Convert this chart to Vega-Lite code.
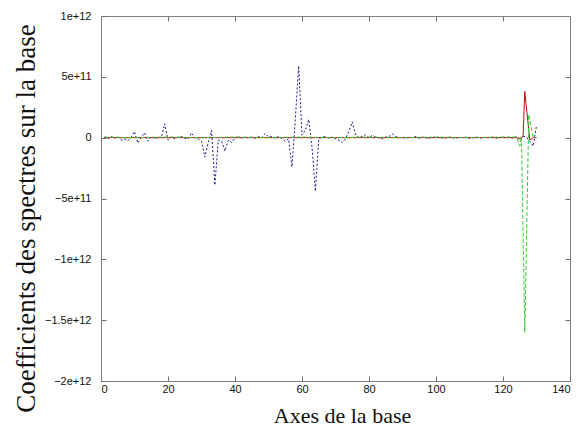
{
  "$schema": "https://vega.github.io/schema/vega-lite/v6.json",
  "autosize": "none",
  "width": 469,
  "height": 365,
  "padding": {"left": 101, "top": 16, "right": 17, "bottom": 53},
  "background": "white",
  "config": {
    "view": {"stroke": "#808080", "strokeWidth": 1},
    "axis": {"domainColor": "#808080", "tickColor": "#707070", "grid": false, "labelFont": "Liberation Sans", "labelFontSize": 11, "labelColor": "#111111", "titleFont": "Liberation Serif", "titleFontWeight": "normal", "titleColor": "#111111"}
  },
  "resolve": {"axis": {"x": "independent", "y": "independent"}},
  "datasets": {
    "blue": [
      {"x":1,"v":0.5e10},{"x":2,"v":-1e10},{"x":3,"v":1e10},{"x":4,"v":-0.5e10},{"x":5,"v":1e10},
      {"x":6,"v":-2e10},{"x":7,"v":-1e10},{"x":8,"v":-2.5e10},{"x":9,"v":0.5e10},{"x":10,"v":5e10},
      {"x":11,"v":-4.5e10},{"x":12,"v":0.5e10},{"x":13,"v":4e10},{"x":14,"v":-3e10},{"x":15,"v":1e10},
      {"x":16,"v":-1e10},{"x":17,"v":0.5e10},{"x":18,"v":0},{"x":19,"v":11.5e10},{"x":20,"v":-2e10},
      {"x":21,"v":0.5e10},{"x":22,"v":-1e10},{"x":23,"v":0.5e10},{"x":24,"v":1e10},{"x":25,"v":-0.5e10},
      {"x":26,"v":-1e10},{"x":27,"v":4e10},{"x":28,"v":0},{"x":29,"v":-1e10},{"x":30,"v":-3e10},
      {"x":31,"v":-16e10},{"x":32,"v":-4e10},{"x":33,"v":6e10},{"x":34,"v":-39e10},{"x":35,"v":-2e10},
      {"x":36,"v":-3e10},{"x":37,"v":-11e10},{"x":38,"v":-2e10},{"x":39,"v":-4e10},{"x":40,"v":0},
      {"x":41,"v":1e10},{"x":42,"v":-0.5e10},{"x":43,"v":0.5e10},{"x":44,"v":0},{"x":45,"v":0.5e10},
      {"x":46,"v":-0.5e10},{"x":47,"v":1e10},{"x":48,"v":0},{"x":49,"v":3.5e10},{"x":50,"v":0.5e10},
      {"x":51,"v":1e10},{"x":52,"v":-0.5e10},{"x":53,"v":1e10},{"x":54,"v":-1e10},{"x":55,"v":-3e10},
      {"x":56,"v":-1e10},{"x":57,"v":-24e10},{"x":58,"v":15e10},{"x":59,"v":59e10},{"x":60,"v":2e10},
      {"x":61,"v":6e10},{"x":62,"v":15e10},{"x":63,"v":-8e10},{"x":64,"v":-44e10},{"x":65,"v":-1e10},
      {"x":66,"v":0.5e10},{"x":67,"v":1e10},{"x":68,"v":-0.5e10},{"x":69,"v":0.5e10},{"x":70,"v":-1e10},
      {"x":71,"v":-2e10},{"x":72,"v":-4e10},{"x":73,"v":-1e10},{"x":74,"v":5e10},{"x":75,"v":13e10},
      {"x":76,"v":2e10},{"x":77,"v":0},{"x":78,"v":1e10},{"x":79,"v":2.5e10},{"x":80,"v":0},
      {"x":81,"v":2e10},{"x":82,"v":0.5e10},{"x":83,"v":0},{"x":84,"v":-1e10},{"x":85,"v":0.5e10},
      {"x":86,"v":1e10},{"x":87,"v":3e10},{"x":88,"v":1e10},{"x":89,"v":0},{"x":90,"v":0.5e10},
      {"x":91,"v":-0.5e10},{"x":92,"v":0.5e10},{"x":93,"v":0},{"x":94,"v":1e10},{"x":95,"v":-0.5e10},
      {"x":96,"v":0.5e10},{"x":97,"v":0},{"x":98,"v":-0.5e10},{"x":99,"v":0.5e10},{"x":100,"v":0},
      {"x":101,"v":0.5e10},{"x":102,"v":-0.5e10},{"x":103,"v":0},{"x":104,"v":0.5e10},{"x":105,"v":0},
      {"x":106,"v":-0.5e10},{"x":107,"v":0.5e10},{"x":108,"v":0},{"x":109,"v":0.5e10},{"x":110,"v":-0.5e10},
      {"x":111,"v":0},{"x":112,"v":0.5e10},{"x":113,"v":0},{"x":114,"v":-0.5e10},{"x":115,"v":0.5e10},
      {"x":116,"v":0},{"x":117,"v":0.5e10},{"x":118,"v":-0.5e10},{"x":119,"v":0},{"x":120,"v":0.5e10},
      {"x":121,"v":0},{"x":122,"v":0.5e10},{"x":123,"v":-0.5e10},{"x":124,"v":1e10},{"x":125,"v":-2e10},
      {"x":126,"v":1e10},{"x":127,"v":0.5e10},{"x":128,"v":-3e10},{"x":129,"v":-7e10},{"x":130,"v":10e10}
    ],
    "red": [
      {"x":1,"v":0},{"x":20,"v":0},{"x":40,"v":0},{"x":60,"v":0},{"x":80,"v":0},{"x":100,"v":0},
      {"x":120,"v":0},{"x":124,"v":0},{"x":125,"v":-0.5e10},{"x":126,"v":1e10},{"x":126.5,"v":38e10},
      {"x":128,"v":-2e10},{"x":129,"v":0},{"x":130,"v":0}
    ],
    "green": [
      {"x":1,"v":0.5e10},{"x":10,"v":0},{"x":20,"v":0.5e10},{"x":30,"v":0},{"x":40,"v":0.5e10},
      {"x":50,"v":0},{"x":60,"v":0.5e10},{"x":70,"v":0},{"x":80,"v":0.5e10},{"x":90,"v":0},
      {"x":100,"v":0.5e10},{"x":110,"v":0},{"x":120,"v":0.5e10},{"x":124,"v":0.5e10},{"x":125,"v":-7e10},
      {"x":125.5,"v":1e10},{"x":126.5,"v":-160e10},{"x":127.7,"v":19e10},{"x":129,"v":0},{"x":130,"v":0}
    ]
  },
  "layer": [
    {
      "data": {"name": "blue"},
      "mark": {"type": "line", "color": "#1a1a8c", "strokeWidth": 1, "strokeDash": [2, 2]},
      "encoding": {
        "x": {"field": "x", "type": "quantitative", "scale": {"domain": [0, 140], "nice": false, "zero": false},
          "axis": {"values": [0,20,40,60,80,100,120,140], "tickSize": -5, "labelPadding": 7, "title": "Axes de la base", "titleFontSize": 22, "titleX": 241, "titleY": 41, "titleBaseline": "alphabetic"}},
        "y": {"field": "v", "type": "quantitative", "scale": {"domain": [-2e12, 1e12], "nice": false},
          "axis": {"values": [-2e12,-1.5e12,-1e12,-5e11,0,5e11,1e12], "tickSize": -5, "labelPadding": 15,
            "labelExpr": "datum.value == 0 ? '0' : format(datum.value, '.2~e')",
            "title": "Coefficients des spectres sur la base", "titleFontSize": 27, "titleAngle": -90, "titleX": -67, "titleY": 202, "titleBaseline": "alphabetic", "titleAlign": "center"}}
      }
    },
    {
      "data": {"name": "red"},
      "mark": {"type": "line", "color": "#bb1111", "strokeWidth": 1},
      "encoding": {"x": {"field": "x", "type": "quantitative", "axis": null}, "y": {"field": "v", "type": "quantitative", "axis": null}}
    },
    {
      "data": {"name": "green"},
      "mark": {"type": "line", "color": "#33cc33", "strokeWidth": 1, "strokeDash": [4, 2]},
      "encoding": {"x": {"field": "x", "type": "quantitative", "axis": null}, "y": {"field": "v", "type": "quantitative", "axis": null}}
    },
    {
      "data": {"name": "red"},
      "mark": {"type": "line", "opacity": 0},
      "encoding": {
        "x": {"field": "x", "type": "quantitative", "axis": {"orient": "top", "values": [20,40,60,80,100,120], "tickSize": -5, "labels": false, "domain": false, "title": null}},
        "y": {"field": "v", "type": "quantitative", "axis": {"orient": "right", "values": [-1.5e12,-1e12,-5e11,0,5e11], "tickSize": -5, "labels": false, "domain": false, "title": null}}
      }
    }
  ]
}
